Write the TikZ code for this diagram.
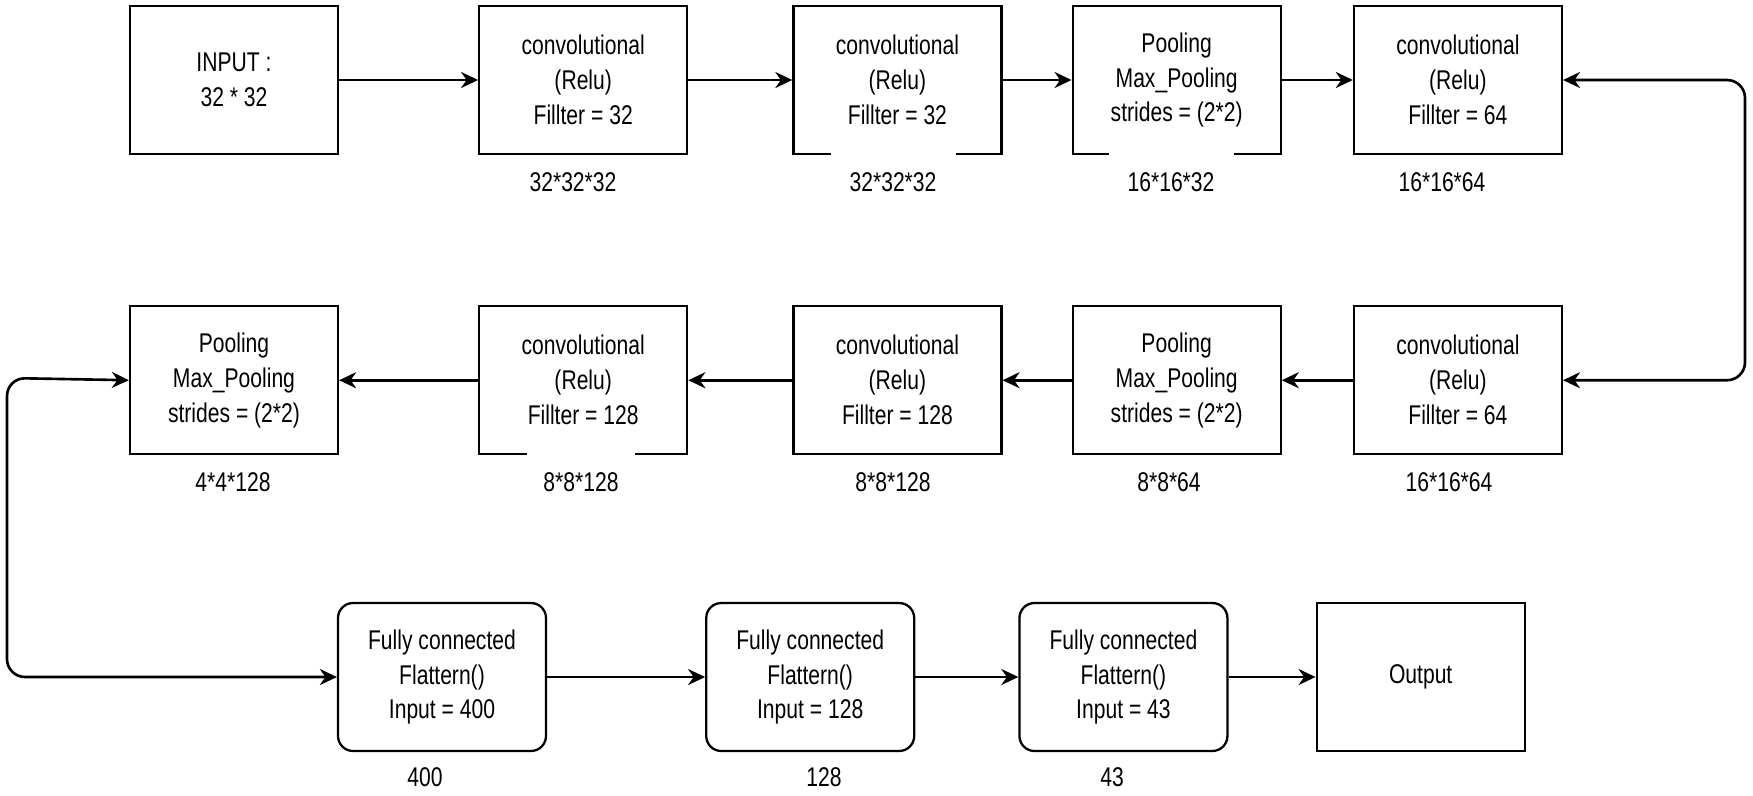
\documentclass[tikz,border=0pt]{standalone}
\usepackage{fontspec}
\setmainfont{Liberation Sans}[FakeStretch=0.78]
\usetikzlibrary{arrows.meta, positioning}

\begin{document}
\begin{tikzpicture}[x=0.02cm, y=-0.02cm,
    layer/.style={rectangle, draw, line width=1.3pt, minimum width=4.16cm, minimum height=2.96cm, font=\fontsize{15.4pt}{19.9pt}\selectfont, align=center, inner sep=0pt},
    dense/.style={layer, rounded corners=0.3cm},
    dim/.style={font=\fontsize{15.4pt}{19.9pt}\selectfont, inner sep=0pt},
    dimcut/.style={dim, fill=white, minimum width=2.5cm, minimum height=1.4cm},
    arrow/.style={-{Stealth[length=0.34cm, width=0.32cm]}, line width=1.5pt},
    twoway/.style={{Stealth[length=0.34cm, width=0.32cm]}-{Stealth[length=0.34cm, width=0.32cm]}, line width=1.5pt, rounded corners=0.36cm}
]
\useasboundingbox (0,0) rectangle (1753,795);

% first row
\node[layer] (inp) at (234,80) {INPUT :\\32 * 32};
\node[layer, right=2.78cm of inp] (conv1) {convolutional\\(Relu)\\Fillter = 32};
\node[layer, right=2.08cm of conv1] (conv2) {convolutional\\(Relu)\\Fillter = 32};
\node[layer, right=1.38cm of conv2] (pool1) {Pooling\\Max\_Pooling\\strides = (2*2)};
\node[layer, right=1.42cm of pool1] (conv3) {convolutional\\(Relu)\\Fillter = 64};

% second row
\node[layer, below=3cm of conv3] (conv4) {convolutional\\(Relu)\\Fillter = 64};
\node[layer, below=3cm of pool1] (pool2) {Pooling\\Max\_Pooling\\strides = (2*2)};
\node[layer, below=3cm of conv2] (conv5) {convolutional\\(Relu)\\Fillter = 128};
\node[layer, below=3cm of conv1] (conv6) {convolutional\\(Relu)\\Fillter = 128};
\node[layer, below=3cm of inp] (pool3) {Pooling\\Max\_Pooling\\strides = (2*2)};

% third row
\node[dense] (fc1) at (442,677) {Fully connected\\Flattern()\\Input = 400};
\node[dense, right=3.16cm of fc1] (fc2) {Fully connected\\Flattern()\\Input = 128};
\node[dense, right=2.06cm of fc2] (fc3) {Fully connected\\Flattern()\\Input = 43};
\node[layer, right=1.74cm of fc3] (out) {Output};

% output sizes
\node[dim] (s1) at (573,182) {32*32*32};
\node[dimcut] (s2) at (893,182) {32*32*32};
\node[dimcut] (s3) at (1171,182) {16*16*32};
\node[dim] (s4) at (1442,182) {16*16*64};
\node[dim] (s5) at (1449,482) {16*16*64};
\node[dim] (s6) at (1169,482) {8*8*64};
\node[dim] (s7) at (893,482) {8*8*128};
\node[dimcut, minimum width=2.16cm] (s8) at (581,482) {8*8*128};
\node[dim] (s9) at (233,482) {4*4*128};
\node[dim] (s10) at (425,777) {400};
\node[dim] (s11) at (824,777) {128};
\node[dim] (s12) at (1112,777) {43};

\draw[arrow] (inp) -- (conv1);
\draw[arrow] (conv1) -- (conv2);
\draw[arrow] (conv2) -- (pool1);
\draw[arrow] (pool1) -- (conv3);
\draw[arrow] (conv4) -- (pool2);
\draw[arrow] (pool2) -- (conv5);
\draw[arrow] (conv5) -- (conv6);
\draw[arrow] (conv6) -- (pool3);
\draw[arrow] (fc1) -- (fc2);
\draw[arrow] (fc2) -- (fc3);
\draw[arrow] (fc3) -- (out);

% turns between rows
\coordinate (rbend) at (1745,80);
\coordinate (lbend) at (7,378);
\draw[twoway] (conv3.east) -- (rbend) |- (conv4.east);
\draw[twoway] (pool3.west) -- (lbend) |- (fc1.west);

\end{tikzpicture}
\end{document}
